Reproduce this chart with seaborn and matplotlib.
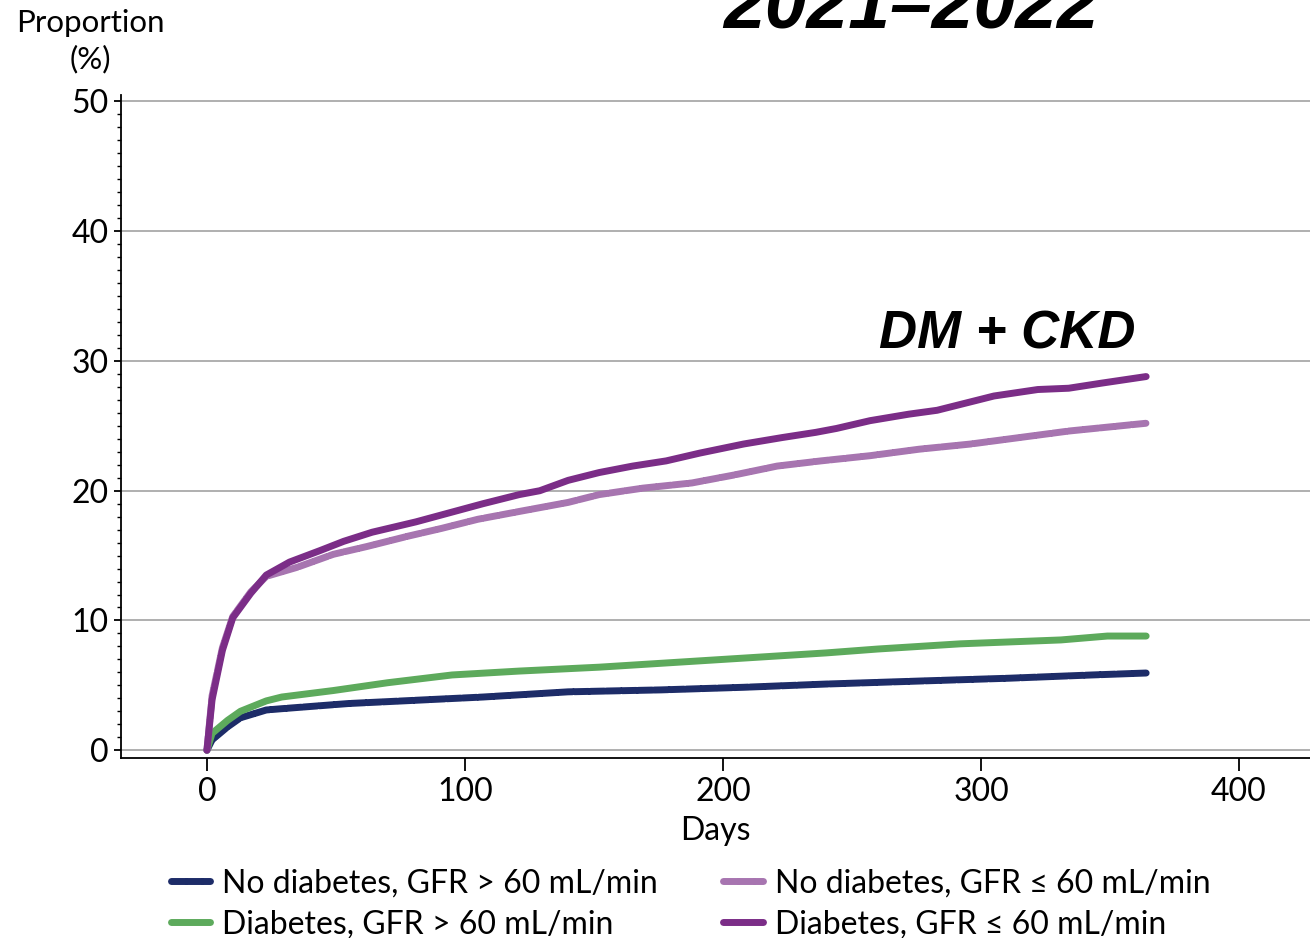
import matplotlib
matplotlib.use("Agg")
import matplotlib.pyplot as plt
import seaborn as sns
import pandas as pd
from matplotlib.ticker import MultipleLocator
from matplotlib.lines import Line2D

# ---- data ----
labels = [
    "No diabetes, GFR > 60 mL/min",
    "Diabetes, GFR > 60 mL/min",
    "No diabetes, GFR \u2264 60 mL/min",
    "Diabetes, GFR \u2264 60 mL/min",
]

days_nodm_hi = [0, 2, 8, 13, 23, 29, 55, 81, 107, 140, 176, 208, 240, 279, 311, 343, 364]
vals_nodm_hi = [0, 0.8, 1.8, 2.5, 3.1, 3.2, 3.6, 3.85, 4.1, 4.5, 4.65, 4.85, 5.1, 5.35, 5.55, 5.8, 5.95]

days_dm_hi = [0, 2, 8, 13, 23, 29, 49, 70, 95, 121, 152, 176, 208, 240, 260, 292, 331, 349, 364]
vals_dm_hi = [0, 1.3, 2.3, 3.0, 3.8, 4.1, 4.6, 5.2, 5.8, 6.1, 6.4, 6.7, 7.1, 7.5, 7.8, 8.2, 8.5, 8.8, 8.8]

days_nodm_lo = [0, 2, 6, 10, 17, 23, 35, 49, 62, 78, 91, 105, 121, 140, 152, 169, 188, 204,
                221, 238, 257, 276, 296, 315, 334, 364]
vals_nodm_lo = [0, 4.2, 7.9, 10.3, 12.2, 13.4, 14.1, 15.1, 15.7, 16.5, 17.1, 17.8, 18.4, 19.1,
                19.7, 20.2, 20.6, 21.2, 21.9, 22.3, 22.7, 23.2, 23.6, 24.1, 24.6, 25.2]

days_dm_lo = [0, 2, 6, 10, 17, 23, 32, 44, 53, 64, 81, 94, 107, 121, 129, 140, 152, 165, 178,
              191, 208, 223, 236, 244, 257, 272, 283, 293, 305, 322, 334, 347, 364]
vals_dm_lo = [0, 3.9, 7.7, 10.2, 12.1, 13.5, 14.5, 15.4, 16.1, 16.8, 17.6, 18.3, 19.0, 19.7,
              20.0, 20.8, 21.4, 21.9, 22.3, 22.9, 23.6, 24.1, 24.5, 24.8, 25.4, 25.9, 26.2,
              26.7, 27.3, 27.8, 27.9, 28.3, 28.8]

x_ticks = [0, 100, 200, 300, 400]
y_ticks = [0, 10, 20, 30, 40, 50]

colors = ["#1d2c68", "#5daa5c", "#a775b0", "#7b2d87"]
dashed = [True, False, True, False]

series = [
    (days_nodm_hi, vals_nodm_hi),
    (days_dm_hi, vals_dm_hi),
    (days_nodm_lo, vals_nodm_lo),
    (days_dm_lo, vals_dm_lo),
]

# ---- style ----
sns.set_style("white")
plt.rcParams["font.family"] = ["Lato", "DejaVu Sans"]
plt.rcParams["text.color"] = "black"
plt.rcParams["xtick.color"] = "black"
plt.rcParams["ytick.color"] = "black"
plt.rcParams["axes.labelcolor"] = "black"

fig = plt.figure(figsize=(13.1, 9.38), dpi=100)
ax = fig.add_axes([121 / 1310, 1 - 758 / 938, 1 - 121 / 1310, (758 - 95) / 938])

LW = 5.0
DASH = (0, (2.0, 0.3))
for (d, v), c, lab, dsh in zip(series, colors, labels, dashed):
    df = pd.DataFrame({"Days": d, "Proportion": v})
    kw = dict(dash_capstyle="round", solid_capstyle="round")
    if dsh:
        kw["linestyle"] = DASH
    sns.lineplot(data=df, x="Days", y="Proportion", ax=ax, color=c, lw=LW,
                 label=lab, legend=False, **kw)

ax.set_xlim(-33.3, 427.5)
ax.set_ylim(-0.6, 50.5)
ax.set_xticks(x_ticks)
ax.set_yticks(y_ticks)
ax.yaxis.set_minor_locator(MultipleLocator(1))
ax.grid(False)
for y in y_ticks:
    ax.axhline(y, color="#a9a9a9", lw=1.3, zorder=0.5)

for s in ["top", "right"]:
    ax.spines[s].set_visible(False)
for s in ["left", "bottom"]:
    ax.spines[s].set_color("black")
    ax.spines[s].set_linewidth(1.3)

ax.tick_params(axis="x", which="major", direction="out", length=9, width=1.3,
               color="black", labelsize=23, pad=5, bottom=True, labelcolor="black")
ax.tick_params(axis="y", which="major", direction="out", length=5, width=1.3,
               color="black", labelsize=23, pad=4, left=True, labelcolor="black")
ax.tick_params(axis="y", which="minor", direction="out", length=3, width=1.0,
               color="black", left=True)

ax.set_xlabel("Days", fontsize=23, labelpad=6, color="black")
ax.set_ylabel("")

fig.text(90 / 1310, 1 - 41 / 938, "Proportion\n(%)", ha="center", va="center",
         fontsize=22.5, linespacing=1.35, color="black")

fig.text(911 / 1310, 1 - 27 / 938, "2021\u20132022", ha="center", va="baseline",
         fontsize=54, fontweight="bold", fontstyle="italic", family="Liberation Sans",
         color="black")

ax.text(310, 31.0, "DM + CKD", ha="center", va="baseline", fontsize=38,
        fontweight="bold", fontstyle="italic", family="Liberation Sans", color="black")

handles = []
for c, lab, dsh in zip(colors, labels, dashed):
    ls = DASH if dsh else "-"
    handles.append(Line2D([0], [0], color=c, lw=LW, linestyle=ls,
                          dash_capstyle="round", solid_capstyle="round", label=lab))
leg = fig.legend(handles=handles, loc="center", bbox_to_anchor=(0.527, 0.0365), ncol=2,
                 frameon=False, fontsize=23, handlelength=1.25, handletextpad=0.36,
                 columnspacing=2.05, labelspacing=0.33)
for t in leg.get_texts():
    t.set_color("black")

fig.savefig("out.png", dpi=100)
